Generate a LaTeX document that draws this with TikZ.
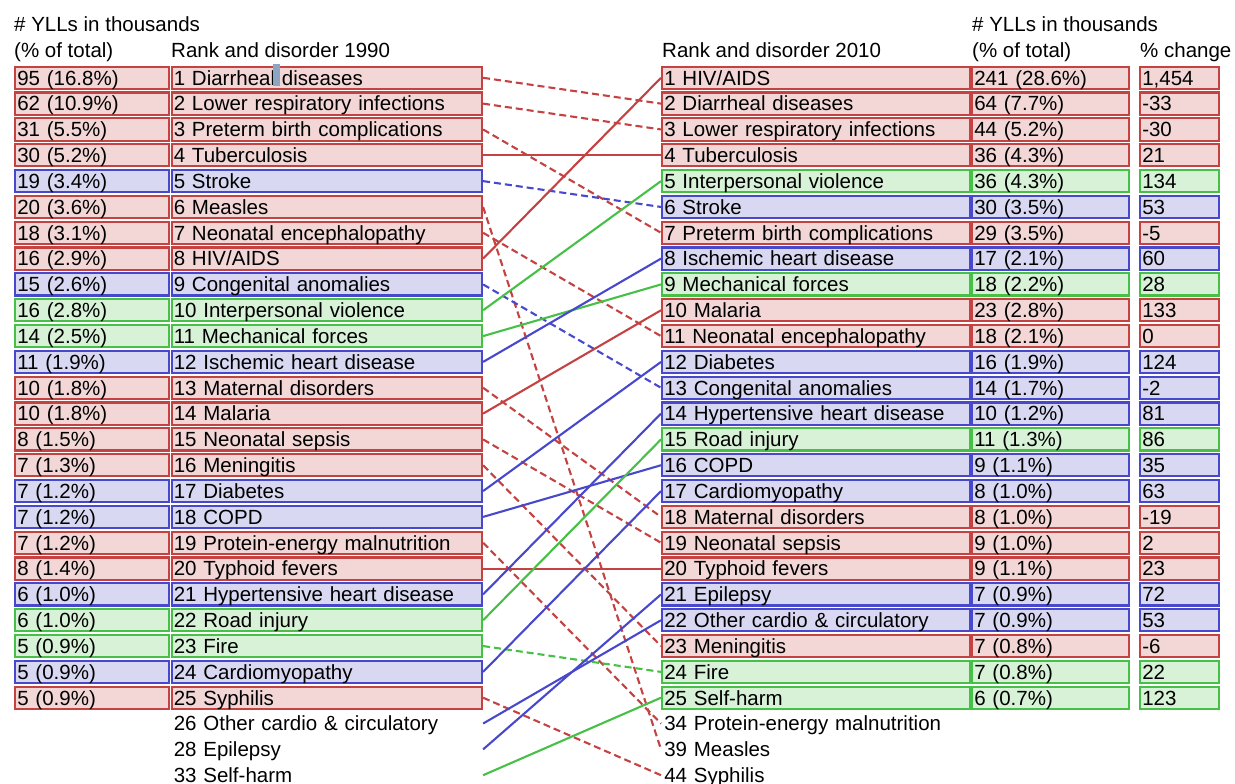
\documentclass[tikz,border=0pt]{standalone}
\usepackage{fontspec}
\setmainfont{Liberation Sans}
\definecolor{dr}{RGB}{196,66,66}
\definecolor{fr}{RGB}{243,214,214}
\definecolor{db}{RGB}{72,72,204}
\definecolor{fb}{RGB}{216,216,242}
\definecolor{dg}{RGB}{70,192,70}
\definecolor{fg}{RGB}{216,242,216}
\definecolor{curs}{RGB}{140,165,195}
\begin{document}
\begin{tikzpicture}[x=1pt,y=-1pt,
  font=\fontsize{20.5pt}{24pt}\selectfont,
  cell/.style={line width=2.1pt, minimum height=22.2pt, inner xsep=2.2pt, inner ysep=0pt,
    text height=14.7pt, text depth=0pt, anchor=west, align=left},
  colA/.style={text width=149.6pt},
  colB/.style={text width=306.1pt},
  colR/.style={text width=303.6pt},
  colV/.style={text width=152.6pt},
  colC/.style={text width=74.6pt},
  hdr/.style={anchor=base west, inner sep=0pt},
  con/.style={line width=2.1pt},
  dsh/.style={dash pattern=on 7pt off 4pt}]
\useasboundingbox (0,0) rectangle (1235,784);
% headers
\node[hdr] (h1) at (14,32) {\# YLLs in thousands};
\node[hdr] (h2) at (14,58) {(\% of total)};
\node[hdr] (h3) at (171,58) {Rank and disorder 1990};
\node[hdr] (h4) at (662,58) {Rank and disorder 2010};
\node[hdr] (h5) at (972,32) {\# YLLs in thousands};
\node[hdr] (h6) at (972,58) {(\% of total)};
\node[hdr] (h7) at (1140,58) {\% change};
% left 1990
\foreach \i/\p/\n/\c in {
  1/{95 (16.8\%)}/{Diarrheal diseases}/r,
  2/{62 (10.9\%)}/{Lower respiratory infections}/r,
  3/{31 (5.5\%)}/{Preterm birth complications}/r,
  4/{30 (5.2\%)}/{Tuberculosis}/r,
  5/{19 (3.4\%)}/{Stroke}/b,
  6/{20 (3.6\%)}/{Measles}/r,
  7/{18 (3.1\%)}/{Neonatal encephalopathy}/r,
  8/{16 (2.9\%)}/{HIV/AIDS}/r,
  9/{15 (2.6\%)}/{Congenital anomalies}/b,
  10/{16 (2.8\%)}/{Interpersonal violence}/g,
  11/{14 (2.5\%)}/{Mechanical forces}/g,
  12/{11 (1.9\%)}/{Ischemic heart disease}/b,
  13/{10 (1.8\%)}/{Maternal disorders}/r,
  14/{10 (1.8\%)}/{Malaria}/r,
  15/{8 (1.5\%)}/{Neonatal sepsis}/r,
  16/{7 (1.3\%)}/{Meningitis}/r,
  17/{7 (1.2\%)}/{Diabetes}/b,
  18/{7 (1.2\%)}/{COPD}/b,
  19/{7 (1.2\%)}/{Protein-energy malnutrition}/r,
  20/{8 (1.4\%)}/{Typhoid fevers}/r,
  21/{6 (1.0\%)}/{Hypertensive heart disease}/b,
  22/{6 (1.0\%)}/{Road injury}/g,
  23/{5 (0.9\%)}/{Fire}/g,
  24/{5 (0.9\%)}/{Cardiomyopathy}/b,
  25/{5 (0.9\%)}/{Syphilis}/r}{
  \pgfmathsetmacro\yy{77.8+(\i-1)*25.83}
  \node[cell, colA, draw=d\c, fill=f\c] (La\i) at (14,\yy) {\p};
  \node[cell, colB, draw=d\c, fill=f\c] (L\i) at (170.5,\yy) {\i\ \n};
}
\foreach \i/\r/\n in {26/26/{Other cardio \& circulatory}, 28/27/{Epilepsy}, 33/28/{Self-harm}}{
  \pgfmathsetmacro\yy{77.8+(\r-1)*25.83}
  \node[cell, colB] (L\i) at (170.5,\yy) {\i\ \n};
}
% right 2010
\foreach \j/\n/\v/\ch/\c in {
  1/{HIV/AIDS}/{241 (28.6\%)}/{1,454}/r,
  2/{Diarrheal diseases}/{64 (7.7\%)}/{-33}/r,
  3/{Lower respiratory infections}/{44 (5.2\%)}/{-30}/r,
  4/{Tuberculosis}/{36 (4.3\%)}/{21}/r,
  5/{Interpersonal violence}/{36 (4.3\%)}/{134}/g,
  6/{Stroke}/{30 (3.5\%)}/{53}/b,
  7/{Preterm birth complications}/{29 (3.5\%)}/{-5}/r,
  8/{Ischemic heart disease}/{17 (2.1\%)}/{60}/b,
  9/{Mechanical forces}/{18 (2.2\%)}/{28}/g,
  10/{Malaria}/{23 (2.8\%)}/{133}/r,
  11/{Neonatal encephalopathy}/{18 (2.1\%)}/{0}/r,
  12/{Diabetes}/{16 (1.9\%)}/{124}/b,
  13/{Congenital anomalies}/{14 (1.7\%)}/{-2}/b,
  14/{Hypertensive heart disease}/{10 (1.2\%)}/{81}/b,
  15/{Road injury}/{11 (1.3\%)}/{86}/g,
  16/{COPD}/{9 (1.1\%)}/{35}/b,
  17/{Cardiomyopathy}/{8 (1.0\%)}/{63}/b,
  18/{Maternal disorders}/{8 (1.0\%)}/{-19}/r,
  19/{Neonatal sepsis}/{9 (1.0\%)}/{2}/r,
  20/{Typhoid fevers}/{9 (1.1\%)}/{23}/r,
  21/{Epilepsy}/{7 (0.9\%)}/{72}/b,
  22/{Other cardio \& circulatory}/{7 (0.9\%)}/{53}/b,
  23/{Meningitis}/{7 (0.8\%)}/{-6}/r,
  24/{Fire}/{7 (0.8\%)}/{22}/g,
  25/{Self-harm}/{6 (0.7\%)}/{123}/g}{
  \pgfmathsetmacro\yy{77.8+(\j-1)*25.83}
  \node[cell, colR, draw=d\c, fill=f\c] (R\j) at (661,\yy) {\j\ \n};
  \node[cell, colV, draw=d\c, fill=f\c] (Rv\j) at (971,\yy) {\v};
  \node[cell, colC, draw=d\c, fill=f\c] (Rc\j) at (1139,\yy) {\ch};
}
\foreach \j/\r/\n in {34/26/{Protein-energy malnutrition}, 39/27/{Measles}, 44/28/{Syphilis}}{
  \pgfmathsetmacro\yy{77.8+(\r-1)*25.83}
  \node[cell, colR] (R\j) at (661,\yy) {\j\ \n};
}
% connectors
\foreach \a/\b/\c/\s in {
  1/2/r/dsh, 2/3/r/dsh, 3/7/r/dsh, 4/4/r/solid, 5/6/b/dsh, 6/39/r/dsh,
  7/11/r/dsh, 8/1/r/solid, 9/13/b/dsh, 10/5/g/solid, 11/9/g/solid,
  12/8/b/solid, 13/18/r/dsh, 14/10/r/solid, 15/19/r/dsh, 16/23/r/dsh,
  17/12/b/solid, 18/16/b/solid, 19/34/r/dsh, 20/20/r/solid, 21/14/b/solid,
  22/15/g/solid, 23/24/g/dsh, 24/17/b/solid, 25/44/r/dsh,
  26/22/b/solid, 28/21/b/solid, 33/25/g/solid}{
  \draw[con, d\c, \s] (L\a.east) -- (R\b.west);
}
% cursor mark
\fill[curs] (273,64) rectangle (280,86);
\end{tikzpicture}
\end{document}
